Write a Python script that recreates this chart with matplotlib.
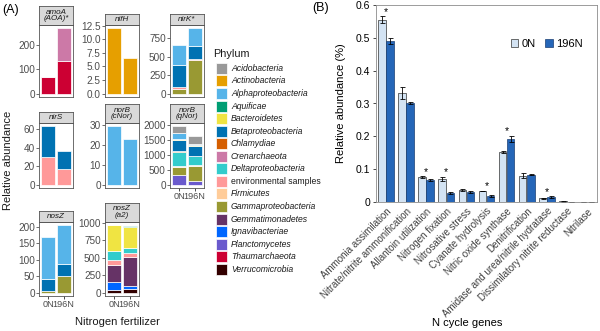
import numpy as np
import matplotlib.pyplot as plt
from matplotlib.patches import Rectangle

plt.rcParams['font.family'] = ['Liberation Sans', 'DejaVu Sans']

W, H = 600, 331

# ---- panel A data ----
phyla = ['Acidobacteria', 'Actinobacteria', 'Alphaproteobacteria', 'Aquificae',
         'Bacteroidetes', 'Betaproteobacteria', 'Chlamydiae', 'Crenarchaeota',
         'Deltaproteobacteria', 'environmental samples', 'Firmicutes',
         'Gammaproteobacteria', 'Gemmatimonadetes', 'Ignavibacteriae',
         'Planctomycetes', 'Thaumarchaeota', 'Verrucomicrobia']
phylum_colors = ['#999999', '#E69F00', '#56B4E9', '#009E73', '#F0E442', '#0072B2',
                 '#D55E00', '#CC79A7', '#33CCCC', '#FF9999', '#FFCC99', '#999933',
                 '#663366', '#0066FF', '#6A5ACD', '#CC0033', '#330000']
treatments = ['0N', '196N']

# {phylum: [0N, 196N]}
amoA = {'Crenarchaeota': [0, 135], 'Thaumarchaeota': [70, 135]}
nifH = {'Actinobacteria': [12.0, 6.5]}
nirK = {'Alphaproteobacteria': [270, 240], 'Betaproteobacteria': [295, 170],
        'environmental samples': [25, 20], 'Gammaproteobacteria': [60, 450]}
nirS = {'Betaproteobacteria': [33, 19], 'environmental samples': [30, 17]}
norB_c = {'Alphaproteobacteria': [29.5, 23.0]}
norB_q = {'Acidobacteria': [230, 250], 'Alphaproteobacteria': [200, 40],
          'Bacteroidetes': [30, 30], 'Betaproteobacteria': [370, 350],
          'Chlamydiae': [30, 0], 'Deltaproteobacteria': [470, 300],
          'Firmicutes': [20, 20], 'Gammaproteobacteria': [280, 480],
          'Planctomycetes': [330, 150]}
nosZ = {'Alphaproteobacteria': [127, 117], 'Betaproteobacteria': [38, 36],
        'Gammaproteobacteria': [5, 52]}
nosZ_a2 = {'Aquificae': [0, 20], 'Bacteroidetes': [370, 300],
           'Deltaproteobacteria': [130, 70], 'environmental samples': [70, 50],
           'Gemmatimonadetes': [240, 420], 'Ignavibacteriae': [110, 45],
           'Verrucomicrobia': [40, 45]}

facet_titles = ['amoA\n(AOA)*', 'nifH', 'nirK*', 'nirS', 'norB\n(cNor)',
                'norB\n(qNor)', 'nosZ', 'nosZ\n(a2)']
facet_data = [amoA, nifH, nirK, nirS, norB_c, norB_q, nosZ, nosZ_a2]
facet_ticks = [[0, 100, 200], [0, 2.5, 5, 7.5, 10, 12.5], [0, 250, 500, 750],
               [0, 20, 40, 60], [0, 10, 20, 30], [0, 500, 1000, 1500, 2000],
               [0, 50, 100, 150, 200], [0, 250, 500, 750, 1000]]
facet_ticklabels = [None, ['0.0', '2.5', '5.0', '7.5', '10.0', '12.5'],
                    None, None, None, None, None, None]

# ---- panel B data ----
genes = ['Ammonia assimilation', 'Nitrate/nitrite ammonification',
         'Allantoin utilization', 'Nitrogen fixation', 'Nitrosative stress',
         'Cyanate hydrolysis', 'Nitric oxide synthase', 'Denitrification',
         'Amidase and urea/nitrile hydratase', 'Dissimilatory nitrite reductase',
         'Nitrilase']
b_0N = [0.555, 0.333, 0.075, 0.070, 0.036, 0.034, 0.153, 0.080, 0.011, 0.002, 0.001]
b_0N_err = [0.010, 0.018, 0.003, 0.007, 0.003, 0.001, 0.003, 0.008, 0.002, 0.0005, 0.0003]
b_196N = [0.490, 0.302, 0.068, 0.027, 0.030, 0.018, 0.193, 0.083, 0.015, 0.001, 0.001]
b_196N_err = [0.010, 0.004, 0.003, 0.004, 0.002, 0.002, 0.009, 0.002, 0.002, 0.0003, 0.0003]
signif = [True, False, True, True, False, True, True, False, True, False, False]


def box(l, t, r, b):
    return [l / W, 1 - b / H, (r - l) / W, (b - t) / H]


fig = plt.figure(figsize=(6.0, 3.31), dpi=100)

# facet grid positions (pixels)
col_x = [(39, 73), (105, 139), (170, 204)]
row_y = [(25, 97), (123, 188), (222, 296)]
grid = [(0, 0), (1, 0), (2, 0), (0, 1), (1, 1), (2, 1), (0, 2), (1, 2)]
bottom_axes = {(0, 2), (1, 2), (2, 1)}
txt = '#4D4D4D'

for k, (title, data) in enumerate(zip(facet_titles, facet_data)):
    c, r = grid[k]
    l, rr = col_x[c]
    t, b = row_y[r]
    ax = fig.add_axes(box(l, t, rr, b))
    bottoms = np.zeros(2)
    for name, col in reversed(list(zip(phyla, phylum_colors))):
        if name in data:
            v = np.array(data[name], dtype=float)
            ax.bar([1, 2], v, width=0.9, bottom=bottoms, color=col,
                   edgecolor='white', linewidth=0.5)
            bottoms += v
    top = bottoms.max()
    ax.set_ylim(-0.05 * top, 1.05 * top)
    ax.set_xlim(0.4, 2.6)
    ax.set_yticks(facet_ticks[k])
    if facet_ticklabels[k]:
        ax.set_yticklabels(facet_ticklabels[k])
    ax.tick_params(axis='y', labelsize=7.2, colors='#333333', labelcolor=txt,
                   length=2, width=0.5, pad=1)
    ax.set_xticks([1, 2])
    if (c, r) in bottom_axes:
        ax.set_xticklabels(treatments)
        ax.tick_params(axis='x', labelsize=6.6, labelcolor=txt, length=2,
                       width=0.5, pad=1)
    else:
        ax.set_xticklabels([])
        ax.tick_params(axis='x', length=0)
    for s in ax.spines.values():
        s.set_color('#555555')
        s.set_linewidth(0.6)
    # strip
    sh = 19 if '\n' in title else 11
    sax = fig.add_axes(box(l, t - sh, rr, t))
    sax.set_facecolor('#D9D9D9')
    sax.set_xticks([])
    sax.set_yticks([])
    for s in sax.spines.values():
        s.set_color('#555555')
        s.set_linewidth(0.6)
    sax.text(0.5, 0.5, title, transform=sax.transAxes, ha='center', va='center',
             fontsize=5.8, style='italic', color='#1A1A1A', linespacing=1.0)

# phylum legend
fig.text(213 / W, 1 - 54 / H, 'Phylum', fontsize=7.8, ha='left', va='center',
         color='#1A1A1A')
for i, (name, col) in enumerate(zip(phyla, phylum_colors)):
    yc = 68.4 + i * 12.55
    fig.patches.append(Rectangle((216 / W, 1 - (yc + 5.5) / H), 11 / W, 11 / H,
                                 transform=fig.transFigure, facecolor=col,
                                 edgecolor='white', linewidth=0.5))
    fig.text(231 / W, 1 - yc / H, name, fontsize=6.2, ha='left', va='center',
             color='#1A1A1A',
             style='normal' if name == 'environmental samples' else 'italic')

fig.text(2 / W, 1 - 10 / H, '(A)', fontsize=9, ha='left', va='center')
fig.text(8 / W, 1 - 160 / H, 'Relative abundance', fontsize=8, rotation=90,
         ha='center', va='center', color='#1A1A1A')
fig.text(117 / W, 1 - 322 / H, 'Nitrogen fertilizer', fontsize=8, ha='center',
         va='center', color='#1A1A1A')

# ---- panel B ----
axb = fig.add_axes(box(376, 5, 597, 202))
x = np.arange(len(genes))
axb.bar(x - 0.2, b_0N, width=0.38, yerr=b_0N_err, color='#D3E3F3',
        edgecolor='#333333', linewidth=0.5, label='0N',
        error_kw=dict(ecolor='black', elinewidth=0.6, capsize=1.8, capthick=0.6))
axb.bar(x + 0.2, b_196N, width=0.38, yerr=b_196N_err, color='#2566B8',
        edgecolor='#1A3F73', linewidth=0.5, label='196N',
        error_kw=dict(ecolor='black', elinewidth=0.6, capsize=1.8, capthick=0.6))
for i, s in enumerate(signif):
    if s:
        ytop = max(b_0N[i] + b_0N_err[i], b_196N[i] + b_196N_err[i])
        axb.text(x[i], ytop + 0.014, '*', ha='center', va='center', fontsize=7.5)
axb.set_xlim(-0.5, len(genes) - 0.5)
axb.set_ylim(0, 0.6)
axb.set_yticks([0, 0.1, 0.2, 0.3, 0.4, 0.5, 0.6])
axb.set_yticklabels(['0', '0.1', '0.2', '0.3', '0.4', '0.5', '0.6'])
axb.set_xticks(x)
axb.set_xticklabels(genes, rotation=45, ha='right', rotation_mode='anchor',
                    fontsize=7, color='#404040')
axb.tick_params(axis='x', length=0, pad=3)
axb.tick_params(axis='y', labelsize=7.5, length=2, width=0.5, pad=2)
for s in axb.spines.values():
    s.set_color('#8C8C8C')
    s.set_linewidth(0.6)
axb.set_ylabel('Relative abundance (%)', fontsize=8, labelpad=7)
axb.legend(loc='upper right', bbox_to_anchor=(0.98, 0.88), ncol=2, frameon=False,
           fontsize=8, handlelength=0.7, handleheight=0.7, handletextpad=0.3,
           columnspacing=0.8)
fig.text(467 / W, 1 - 323 / H, 'N cycle genes', fontsize=8, ha='center',
         va='center')
fig.text(312 / W, 1 - 8 / H, '(B)', fontsize=9, ha='left', va='center')

fig.savefig('out.png', dpi=100)
